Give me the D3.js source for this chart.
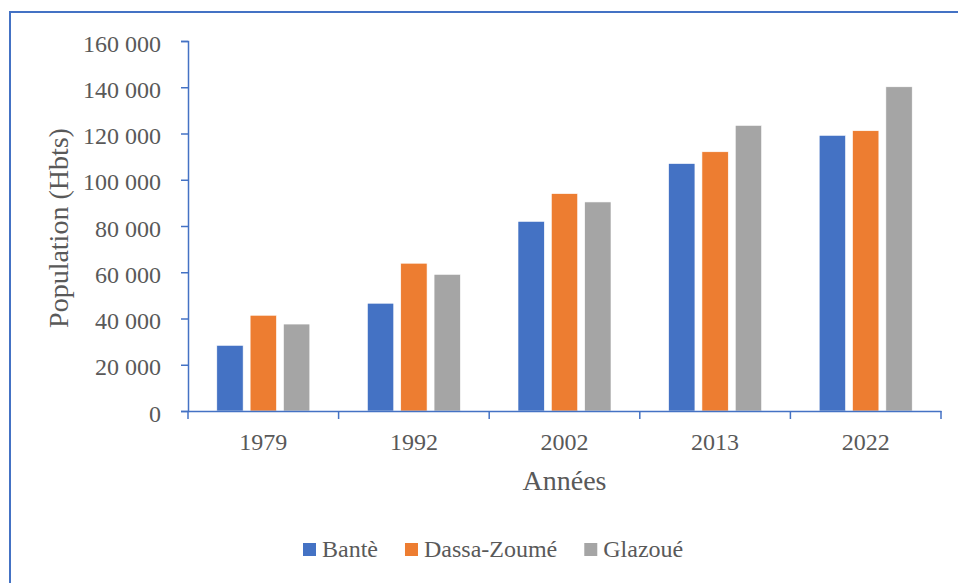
<!DOCTYPE html>
<html>
<head>
<meta charset="utf-8">
<script src="https://cdn.jsdelivr.net/npm/d3@7"></script>
<style>
  body { margin: 0; background: #fff; }
  text { font-family: "Liberation Serif", serif; fill: #595959; }
</style>
</head>
<body>
<div id="chart"></div>
<script>
var svgWidth = 958;
var svgHeight = 583;

// data
var years = ["1979", "1992", "2002", "2013", "2022"];
var series = ["Bantè", "Dassa-Zoumé", "Glazoué"];
var bante = [28400, 46600, 82000, 107000, 119200];
var dassa = [41400, 63900, 94000, 112100, 121200];
var glazoue = [37600, 59100, 90400, 123500, 140200];
var yTicks = [0, 20000, 40000, 60000, 80000, 100000, 120000, 140000, 160000];
var colors = ["#4472C4", "#ED7D31", "#A5A5A5"];

var values = [bante, dassa, glazoue];

var margin = { top: 41, left: 188, right: 17, bottom: 172 };
var width = svgWidth - margin.left - margin.right;
var height = svgHeight - margin.top - margin.bottom;

var svg = d3.select("#chart")
  .append("svg")
  .attr("width", svgWidth)
  .attr("height", svgHeight);

// outer frame (runs off the right and bottom edge like the source)
svg.append("rect")
  .attr("x", 10)
  .attr("y", 12)
  .attr("width", 980)
  .attr("height", 600)
  .attr("fill", "none")
  .attr("stroke", "#4472C4")
  .attr("stroke-width", 2);

var chartGroup = svg.append("g")
  .attr("transform", `translate(${margin.left},${margin.top})`);

var x0 = d3.scaleBand()
  .domain(years)
  .range([0, width])
  .padding(0);

var groupWidth = 93;
var x1 = d3.scaleBand()
  .domain(series)
  .range([(x0.bandwidth() - groupWidth) / 2, (x0.bandwidth() + groupWidth) / 2])
  .paddingInner(0.21)
  .paddingOuter(0);

var y = d3.scaleLinear()
  .domain([0, 160000])
  .range([height, 0]);

var fmt = d3.formatLocale({ decimal: ",", thousands: " ", grouping: [3], currency: ["", ""] }).format(",d");

// bars
series.forEach(function(s, i) {
  chartGroup.append("g")
    .selectAll("rect")
    .data(years)
    .enter()
    .append("rect")
    .attr("x", (d, j) => x0(d) + x1(s))
    .attr("y", (d, j) => y(values[i][j]))
    .attr("width", x1.bandwidth())
    .attr("height", (d, j) => height - y(values[i][j]))
    .attr("fill", colors[i])
    .attr("stroke", "#fff")
    .attr("stroke-width", 0.6);
});

// y axis
var yAxis = chartGroup.append("g")
  .call(d3.axisLeft(y).tickValues(yTicks).tickFormat(fmt).tickSize(7).tickPadding(20));
yAxis.select(".domain").attr("stroke", "#4472C4").attr("stroke-width", 1.5);
yAxis.selectAll(".tick line").attr("stroke", "#4472C4").attr("stroke-width", 1.5);
yAxis.selectAll(".tick text")
  .attr("dy", "0.42em")
  .style("font-size", "24px")
  .style("font-family", "Liberation Serif")
  .attr("fill", "#595959");

// x axis
var xAxis = chartGroup.append("g")
  .attr("transform", `translate(0,${height})`)
  .call(d3.axisBottom(x0).tickSize(0).tickPadding(22).tickSizeOuter(0));
xAxis.select(".domain").attr("stroke", "#4472C4").attr("stroke-width", 1.5);
xAxis.selectAll(".tick text")
  .style("font-size", "24px")
  .style("font-family", "Liberation Serif")
  .attr("fill", "#595959");

// tick marks at the category boundaries
var bounds = years.map(d => x0(d)).concat([x0.range()[1]]);
xAxis.selectAll(".bound")
  .data(bounds)
  .enter()
  .append("line")
  .attr("class", "bound")
  .attr("x1", d => d)
  .attr("x2", d => d)
  .attr("y1", 0)
  .attr("y2", 8)
  .attr("stroke", "#4472C4")
  .attr("stroke-width", 1.5);

// axis titles
svg.append("text")
  .attr("x", margin.left + width / 2)
  .attr("y", 490)
  .attr("text-anchor", "middle")
  .style("font-size", "28px")
  .text("Années");

svg.append("text")
  .attr("transform", "translate(68,228) rotate(-90)")
  .attr("text-anchor", "middle")
  .style("font-size", "28px")
  .text("Population (Hbts)");

// legend
var legend = svg.append("g");
var lx = 303;
series.forEach(function(s, i) {
  legend.append("rect")
    .attr("x", lx)
    .attr("y", 543)
    .attr("width", 13)
    .attr("height", 13)
    .attr("fill", colors[i]);
  var t = legend.append("text")
    .attr("x", lx + 19)
    .attr("y", 557)
    .style("font-size", "24px")
    .text(s);
  lx = lx + 19 + t.node().getComputedTextLength() + 27;
});
</script>
</body>
</html>
